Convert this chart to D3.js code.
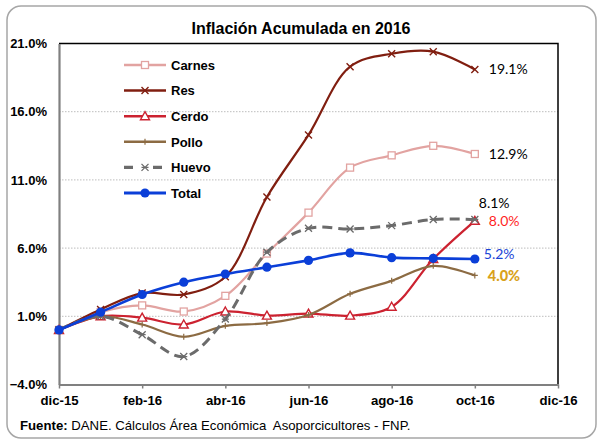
<!DOCTYPE html>
<html>
<head>
<meta charset="utf-8">
<script src="https://cdn.jsdelivr.net/npm/d3@7"></script>
<style>
	body { margin: 0; background: #fff; }
	svg { display: block; }
	.axis text { font-family: "Liberation Sans", Arial, sans-serif; font-weight: bold; fill: #000; }
	.legend text { font-family: "Liberation Sans", Arial, sans-serif; font-weight: bold; font-size: 13px; }
	.endlabel { font-family: Lato, "Open Sans", sans-serif; font-size: 14px; }
</style>
</head>
<body>
<script>
// Months of 2016 shown (accumulated inflation, %)
const months = ["dic-15", "ene-16", "feb-16", "mar-16", "abr-16", "may-16",
	"jun-16", "jul-16", "ago-16", "sep-16", "oct-16"];

// X axis labels (every two months, up to dic-16)
const xTickLabels = ["dic-15", "feb-16", "abr-16", "jun-16", "ago-16", "oct-16", "dic-16"];
const yTickValues = [-4, 1, 6, 11, 16, 21];

// Series values
const carnes = [0, 1.3, 1.8, 1.35, 2.5, 5.6, 8.6, 11.9, 12.8, 13.5, 12.9];
const res = [0, 1.5, 2.7, 2.6, 3.9, 9.75, 14.3, 19.3, 20.25, 20.4, 19.1];
const cerdo = [0, 1.0, 0.9, 0.4, 1.35, 1.05, 1.2, 1.05, 1.7, 5.2, 8.0];
const pollo = [0, 1.0, 0.4, -0.5, 0.3, 0.5, 1.1, 2.65, 3.6, 4.7, 4.0];
const huevo = [0, 1.0, -0.35, -1.95, 0.8, 5.7, 7.45, 7.4, 7.65, 8.1, 8.1];
const total = [0, 1.3, 2.6, 3.5, 4.1, 4.6, 5.1, 5.65, 5.3, 5.25, 5.2];

// Labels for the last point of each series
const endLabels = ["19.1%", "12.9%", "8.1%", "8.0%", "5.2%", "4.0%"];

const seriesNames = ["Carnes", "Res", "Cerdo", "Pollo", "Huevo", "Total"];

// View
const width = 597, height = 439;
const plot = { left: 59, right: 558, top: 43.5, bottom: 384.5 };

const series = [
	{ name: seriesNames[0], values: carnes, color: "#E2A3A1", width: 2.2, marker: "square" },
	{ name: seriesNames[1], values: res, color: "#801E10", width: 2.2, marker: "x" },
	{ name: seriesNames[2], values: cerdo, color: "#CC2230", width: 2.2, marker: "triangle" },
	{ name: seriesNames[3], values: pollo, color: "#8C6B43", width: 2.2, marker: "plus" },
	{ name: seriesNames[4], values: huevo, color: "#6B6B6B", width: 3, marker: "star", dash: "10,6" },
	{ name: seriesNames[5], values: total, color: "#0B3FD8", width: 2.6, marker: "circle" }
];

const svg = d3.select("body").append("svg")
	.attr("width", width)
	.attr("height", height);

// Outer rounded frame
svg.append("rect")
	.attr("x", 7).attr("y", 6)
	.attr("width", 589).attr("height", 432)
	.attr("rx", 14)
	.attr("fill", "none")
	.attr("stroke", "#A6A6A6")
	.attr("stroke-width", 1.5);

const x = d3.scaleLinear().domain([0, 12]).range([plot.left, plot.right]);
const y = d3.scaleLinear().domain([-4, 21]).range([plot.bottom, plot.top]);

// Title
svg.append("text")
	.attr("x", 301)
	.attr("y", 34)
	.attr("text-anchor", "middle")
	.style("font-family", "'Liberation Sans', Arial, sans-serif")
	.style("font-weight", "bold")
	.style("font-size", "16px")
	.text("Inflación Acumulada en 2016");

// Gridlines
svg.append("g").selectAll("line")
	.data(yTickValues.filter(v => v > -4 && v < 21))
	.enter().append("line")
	.attr("x1", plot.left).attr("x2", plot.right)
	.attr("y1", d => y(d)).attr("y2", d => y(d))
	.attr("stroke", "#BDBDBD")
	.attr("stroke-width", 1)
	.attr("stroke-dasharray", "1.5,1.5");

// Plot frame: top and right in black
svg.append("path")
	.attr("d", `M${plot.left},${plot.top}H${plot.right}V${plot.bottom}`)
	.attr("fill", "none")
	.attr("stroke", "#000")
	.attr("stroke-width", 1.5);

// Y axis
const yAxis = svg.append("g")
	.attr("class", "axis")
	.attr("transform", `translate(${plot.left},0)`)
	.call(d3.axisLeft(y).tickValues(yTickValues).tickSize(0).tickPadding(12)
		.tickFormat(d => d3.format(".1f")(d) + "%"));
yAxis.select(".domain").attr("stroke", "#808080").attr("stroke-width", 2.2);
yAxis.selectAll("text").style("font-size", "13px");

// X axis
const xAxis = svg.append("g")
	.attr("class", "axis")
	.attr("transform", `translate(0,${plot.bottom})`)
	.call(d3.axisBottom(x).tickValues(d3.range(0, 13, 2)).tickSize(4).tickSizeOuter(0).tickPadding(7)
		.tickFormat((d, i) => xTickLabels[i]));
xAxis.select(".domain").attr("stroke", "#808080").attr("stroke-width", 2.2);
xAxis.selectAll(".tick line").attr("stroke", "#808080").attr("stroke-width", 1.5);
xAxis.selectAll("text").style("font-size", "13.2px");

// Lines
const line = d3.line()
	.x((d, i) => x(i))
	.y(d => y(d))
	.curve(d3.curveCatmullRom.alpha(0.5));

/**
 * Draws one marker symbol at (cx, cy)
 */
function drawMarker(g, type, cx, cy, color) {
	if (type === "square") {
		g.append("rect").attr("x", cx - 3.5).attr("y", cy - 3.5)
			.attr("width", 7).attr("height", 7)
			.attr("fill", "#fff").attr("stroke", color).attr("stroke-width", 1.3);
	} else if (type === "x") {
		g.append("path").attr("d", `M${cx - 3.5},${cy - 3.5}L${cx + 3.5},${cy + 3.5}M${cx - 3.5},${cy + 3.5}L${cx + 3.5},${cy - 3.5}`)
			.attr("stroke", color).attr("stroke-width", 1.4);
	} else if (type === "triangle") {
		g.append("path").attr("d", `M${cx},${cy - 4.5}L${cx + 4.5},${cy + 3.5}L${cx - 4.5},${cy + 3.5}Z`)
			.attr("fill", "#fff").attr("stroke", color).attr("stroke-width", 1.4);
	} else if (type === "plus") {
		g.append("path").attr("d", `M${cx - 3},${cy}H${cx + 3}M${cx},${cy - 3}V${cy + 3}`)
			.attr("stroke", color).attr("stroke-width", 1.2);
	} else if (type === "star") {
		g.append("path").attr("d", `M${cx - 3.5},${cy - 3.5}L${cx + 3.5},${cy + 3.5}M${cx - 3.5},${cy + 3.5}L${cx + 3.5},${cy - 3.5}M${cx - 3.5},${cy}H${cx + 3.5}`)
			.attr("stroke", color).attr("stroke-width", 1.3);
	} else if (type === "circle") {
		g.append("circle").attr("cx", cx).attr("cy", cy).attr("r", 4.6)
			.attr("fill", color);
	}
}

for (let s of series) {
	const g = svg.append("g");
	g.append("path")
		.datum(s.values)
		.attr("d", line)
		.attr("fill", "none")
		.attr("stroke", s.color)
		.attr("stroke-width", s.width)
		.attr("stroke-dasharray", s.dash || null)
		.attr("stroke-linejoin", "round");
	s.values.forEach((v, i) => drawMarker(g, s.marker, x(i), y(v), s.color));
}

// Legend
const legend = svg.append("g").attr("class", "legend");
series.forEach((s, i) => {
	const cy = 65 + i * 25.6;
	const g = legend.append("g");
	g.append("line")
		.attr("x1", 124).attr("x2", 166)
		.attr("y1", cy).attr("y2", cy)
		.attr("stroke", s.color)
		.attr("stroke-width", s.width + 0.3)
		.attr("stroke-dasharray", s.dash ? "9,8,5,7,9" : null);
	if (s.dash) {
		g.append("rect").attr("x", 140).attr("y", cy - 5).attr("width", 10).attr("height", 10).attr("fill", "#fff");
	}
	drawMarker(g, s.marker, 145, cy, s.color);
	g.append("text")
		.attr("x", 171)
		.attr("y", cy + 4.8)
		.text(s.name);
});

// End-of-series value labels
const last = months.length - 1;
const labelSpecs = [
	{ value: res[last], text: endLabels[0], color: "#000", dx: 14, dy: 5, bold: false },
	{ value: carnes[last], text: endLabels[1], color: "#000", dx: 14, dy: 5.5, bold: false },
	{ value: huevo[last], text: endLabels[2], color: "#000", dx: 4, dy: -11, bold: false },
	{ value: cerdo[last], text: endLabels[3], color: "#FF1F1F", dx: 14, dy: 5.5, bold: false },
	{ value: total[last], text: endLabels[4], color: "#1A44D6", dx: 9, dy: 0, bold: false },
	{ value: pollo[last], text: endLabels[5], color: "#D9A21B", dx: 13, dy: 5.5, bold: true }
];
svg.append("g").selectAll("text")
	.data(labelSpecs)
	.enter().append("text")
	.attr("class", "endlabel")
	.attr("x", d => x(last) + d.dx)
	.attr("y", d => y(d.value) + d.dy)
	.attr("fill", d => d.color)
	.style("font-weight", d => d.bold ? "900" : "normal")
	.style("font-size", d => d.bold ? "14.5px" : null)
	.text(d => d.text);

// Source note
const source = svg.append("text")
	.attr("x", 20)
	.attr("y", 430)
	.style("font-family", "'Liberation Sans', Arial, sans-serif")
	.style("font-size", "13.2px");
source.append("tspan").style("font-weight", "bold").text("Fuente:");
source.append("tspan").attr("xml:space", "preserve").text(" DANE. Cálculos Área Económica  Asoporcicultores - FNP.");
</script>
</body>
</html>
